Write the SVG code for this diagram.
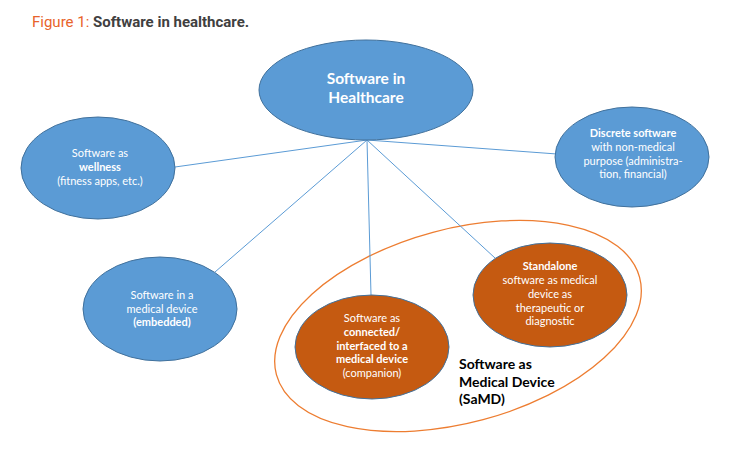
<svg xmlns="http://www.w3.org/2000/svg" width="750" height="450" viewBox="0 0 750 450">
<style>
.blue{fill:#5B9BD5;stroke:#41719C;stroke-width:1}
.org{fill:#C55A11;stroke:#41719C;stroke-width:1}
.t{font-family:Lato,"Open Sans",sans-serif;font-size:11px;fill:#ffffff;text-anchor:middle}
.big{font-size:15.5px}
.b{font-weight:bold}
.conn line{stroke:#5B9BD5;stroke-width:1}
</style>
<rect width="750" height="450" fill="#ffffff"/>
<text x="32" y="27" font-family="Roboto,sans-serif" font-size="15"><tspan fill="#E8632B">Figure 1: </tspan><tspan fill="#404040" font-weight="bold">Software in healthcare.</tspan></text>
<g id="samd-group">
<ellipse cx="458" cy="326" rx="188" ry="97" transform="rotate(-15 458 326)" fill="none" stroke="#ED7D31" stroke-width="1.3"/>
<text font-family="Lato,'Open Sans',sans-serif" font-size="14" font-weight="bold" fill="#000000"><tspan x="459" y="369">Software as</tspan><tspan x="459" y="387">Medical Device</tspan><tspan x="459" y="404">(SaMD)</tspan></text>
</g>
<g class="conn" id="connectors">
<line x1="367" y1="140" x2="175" y2="167"/>
<line x1="367" y1="140" x2="557" y2="154"/>
<line x1="367" y1="140" x2="215" y2="272"/>
<line x1="367" y1="140" x2="371" y2="295"/>
<line x1="367" y1="140" x2="495" y2="258"/>
</g>
<g id="center">
<ellipse class="blue" cx="366" cy="90" rx="107" ry="50"/>
<text class="t b big"><tspan x="366" y="84">Software in</tspan><tspan x="366" y="103">Healthcare</tspan></text>
</g>
<g id="wellness">
<ellipse class="blue" cx="98" cy="168" rx="77" ry="51"/>
<text class="t"><tspan x="100" y="157">Software as</tspan><tspan x="100" y="171" class="b">wellness</tspan><tspan x="100" y="185">(fitness apps, etc.)</tspan></text>
</g>
<g id="discrete">
<ellipse class="blue" cx="632" cy="157" rx="77" ry="50"/>
<text class="t"><tspan x="633" y="137" class="b">Discrete software</tspan><tspan x="633" y="151">with non-medical</tspan><tspan x="633" y="165">purpose (administra-</tspan><tspan x="633" y="178">tion, financial)</tspan></text>
</g>
<g id="embedded">
<ellipse class="blue" cx="160" cy="309" rx="77" ry="52"/>
<text class="t"><tspan x="162" y="299">Software in a</tspan><tspan x="162" y="313">medical device</tspan><tspan x="162" y="326" class="b">(embedded)</tspan></text>
</g>
<g id="connected">
<ellipse class="org" cx="372" cy="347" rx="77" ry="52"/>
<text class="t"><tspan x="372" y="322">Software as</tspan><tspan x="372" y="336" class="b">connected/</tspan><tspan x="372" y="350" class="b">interfaced to a</tspan><tspan x="372" y="363" class="b">medical device</tspan><tspan x="372" y="377">(companion)</tspan></text>
</g>
<g id="standalone">
<ellipse class="org" cx="550" cy="295" rx="77" ry="52"/>
<text class="t"><tspan x="550" y="270" class="b">Standalone</tspan><tspan x="550" y="284">software as medical</tspan><tspan x="550" y="298">device as</tspan><tspan x="550" y="312">therapeutic or</tspan><tspan x="550" y="325">diagnostic</tspan></text>
</g>
</svg>
